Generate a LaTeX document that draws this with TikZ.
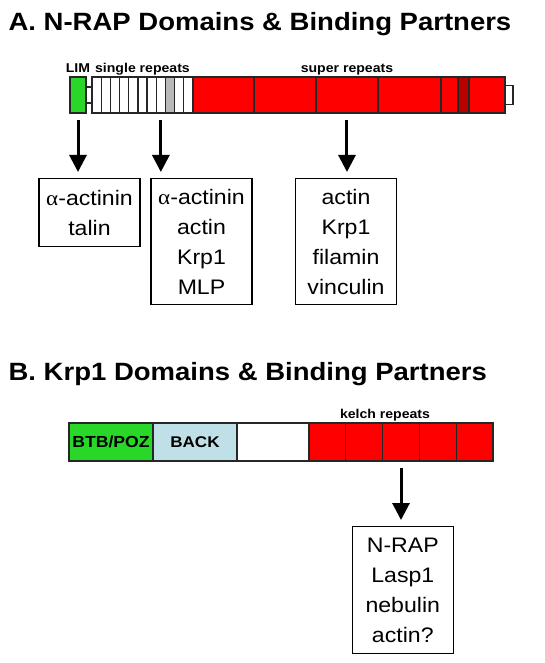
\documentclass[tikz,border=0pt]{standalone}
\usepackage{fontspec}
\setmainfont[FakeStretch=1.1]{Liberation Sans}
\newfontfamily\greekfont[FakeStretch=1.1]{Liberation Serif}
\usepackage{tikz}
\usetikzlibrary{positioning,arrows.meta}
\definecolor{limgreen}{RGB}{40,215,40}
\definecolor{repred}{RGB}{255,0,0}
\definecolor{darkrep}{RGB}{185,0,0}
\definecolor{backblue}{RGB}{190,224,230}
\definecolor{cellgray}{RGB}{185,185,185}

\begin{document}
\begin{tikzpicture}[x=1pt, y=-1pt, line width=1.2pt,
	seg/.style={draw=black!85, rectangle, inner sep=0pt, outer sep=0pt, minimum height=36pt},
	tab/.style={draw=black!85, rectangle, inner sep=0pt, outer sep=0pt, fill=white},
	partners/.style={draw, rectangle, inner sep=0pt, minimum width=101pt, align=center, font=\fontsize{21}{30}\selectfont},
	title/.style={font=\bfseries\fontsize{25}{28}\selectfont, anchor=base west, inner sep=0pt},
	lbl/.style={font=\bfseries\fontsize{12.8}{15}\selectfont, inner sep=0pt, anchor=base},
	bind/.style={-{Triangle[width=17pt,length=17pt]}, line width=3pt, shorten <=7pt, shorten >=6pt}]
	
	\useasboundingbox (0,0) rectangle (544,663);
	
	\node [title] (titleA) at (8,31) {A. N-RAP Domains \& Binding Partners};
	
	\node [seg, fill=limgreen, minimum width=16pt, anchor=west] (lim) at (70,95) {};
	\node [tab, minimum width=6pt, minimum height=16pt] (link) [right=0pt of lim] {};
	
	\node [seg, fill=white, minimum width=9.18pt] (sr1) [right=0pt of link] {};
	\foreach \i in {2,...,11}{
		\pgfmathtruncatemacro\j{\i-1}
		\ifnum\i=9 \def\c{cellgray}\else\def\c{white}\fi
		\node [seg, fill=\c, minimum width=9.18pt] (sr\i) [right=0pt of sr\j] {};
	}
	
	\node [seg, fill=repred, minimum width=61pt] (sup1) [right=0pt of sr11] {};
	\node [seg, fill=repred, minimum width=62pt] (sup2) [right=0pt of sup1] {};
	\node [seg, fill=repred, minimum width=62pt] (sup3) [right=0pt of sup2] {};
	\node [seg, fill=repred, minimum width=63pt] (sup4) [right=0pt of sup3] {};
	\node [seg, fill=repred, minimum width=17pt] (sup5) [right=0pt of sup4] {};
	\node [seg, fill=darkrep, minimum width=11pt] (sup6) [right=0pt of sup5] {};
	\node [seg, fill=repred, minimum width=36pt] (sup7) [right=0pt of sup6] {};
	\node [tab, minimum width=8pt, minimum height=19pt] (end) [right=0pt of sup7] {};
	
	\node [lbl] (limtext) at ([yshift=4pt]lim.north) {LIM};
	\node [lbl] (singletext) at ([yshift=4pt]sr6.north) {single repeats};
	\node [lbl] (supertext) at ([yshift=4pt]sup3.north) {super repeats};
	
	\node [partners, minimum height=68pt, anchor=north] (limpart) at (89.5,178) {{\greekfont α}-actinin\\talin};
	\node [partners, minimum height=126pt, anchor=north] (singlepart) at (201.5,178) {{\greekfont α}-actinin\\actin\\Krp1\\MLP};
	\node [partners, minimum height=126pt, anchor=north] (superpart) at (346,178) {actin\\Krp1\\filamin\\vinculin};
	
	\draw [bind] (lim.south) -- (lim.south |- limpart.north);
	\draw [bind] (sr8.south) -- (sr8.south |- singlepart.north);
	\draw [bind] (sup3.south) -- (sup3.south |- superpart.north);
	
	\node [title] (titleB) at (8,380) {B. Krp1 Domains \& Binding Partners};
	
	\node [seg, fill=limgreen, minimum width=84pt, minimum height=38pt, anchor=west, font=\bfseries\fontsize{16}{18}\selectfont] (btb) at (69,442) {BTB/POZ};
	\node [seg, fill=backblue, minimum width=84pt, minimum height=38pt, font=\bfseries\fontsize{15.5}{18}\selectfont] (back) [right=0pt of btb] {BACK};
	\node [seg, fill=white, minimum width=72pt, minimum height=38pt] (blank) [right=0pt of back] {};
	\node [seg, fill=repred, minimum width=36.8pt, minimum height=38pt] (k1) [right=0pt of blank] {};
	\foreach \i in {2,...,5}{
		\pgfmathtruncatemacro\j{\i-1}
		\node [seg, fill=repred, minimum width=36.8pt, minimum height=38pt] (k\i) [right=0pt of k\j] {};
	}
	
	\node [lbl] (kelchtext) at ([xshift=-16pt, yshift=5pt]k3.north) {kelch repeats};
	
	\node [partners, minimum height=127pt, anchor=north] (kelchpart) at (402.8,526) {N-RAP\\Lasp1\\nebulin\\actin?};
	
	\draw [bind] (k3.south) -- (k3.south |- kelchpart.north);
\end{tikzpicture}
\end{document}
